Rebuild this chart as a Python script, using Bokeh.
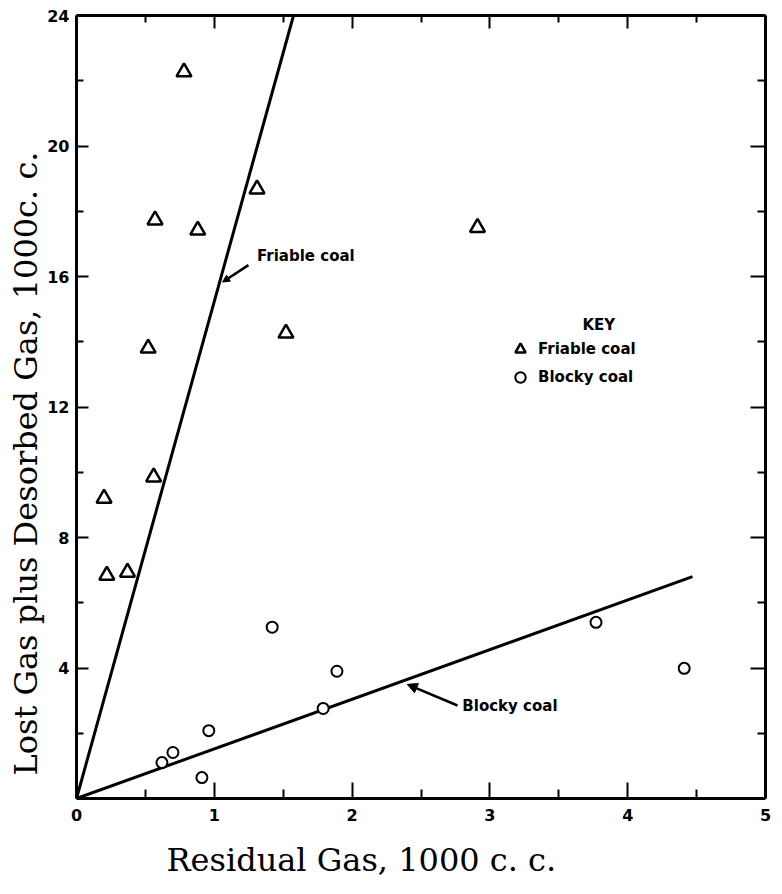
from bokeh.plotting import figure
from bokeh.models import (Range1d, LinearAxis, FixedTicker, Label, Arrow, NormalHead,
                          Legend, LegendItem, CustomJSTickFormatter, Title)
from bokeh.embed import file_html
from bokeh.resources import INLINE

# ---- data ----
friable_x = [0.78, 1.31, 0.57, 0.88, 1.52, 0.52, 2.91, 0.56, 0.20, 0.22, 0.37]
friable_y = [22.27, 18.68, 17.73, 17.42, 14.26, 13.80, 17.50, 9.85, 9.20, 6.84, 6.93]
blocky_x = [1.42, 1.89, 1.79, 0.62, 0.70, 0.96, 0.91, 3.77, 4.41]
blocky_y = [5.25, 3.90, 2.76, 1.10, 1.41, 2.08, 0.64, 5.40, 3.99]
friable_fit_x = [0.0, 1.575]
friable_fit_y = [0.0, 24.0]
blocky_fit_x = [0.0, 4.47]
blocky_fit_y = [0.0, 6.80]
x_ticks = [0, 1, 2, 3, 4, 5]
x_minor = [0.5, 1.5, 2.5, 3.5, 4.5]
y_ticks = [4, 8, 12, 16, 20, 24]
y_minor = [2, 6, 10, 14, 18, 22]
x_title = "Residual Gas,  1000 c. c."
y_title = "Lost Gas plus Desorbed Gas, 1000c. c."

TICK_FONT = "DejaVu Sans"
SERIF = "DejaVu Serif"

p = figure(width=782, height=894, x_range=Range1d(0, 5), y_range=Range1d(0, 24),
           output_backend="svg", toolbar_location=None,
           x_axis_type=None, y_axis_type=None,
           min_border_left=76, min_border_right=17, min_border_top=15, min_border_bottom=96,
           background_fill_color="white", border_fill_color="white", outline_line_color=None)


def make_axis(ticks, minor, tick_in, minor_in, labels, standoff=8):
    ax = LinearAxis(ticker=FixedTicker(ticks=ticks, minor_ticks=minor))
    ax.axis_line_width = 3
    ax.axis_line_color = "black"
    ax.major_tick_in = tick_in
    ax.major_tick_out = 0
    ax.minor_tick_in = minor_in
    ax.minor_tick_out = 0
    ax.major_tick_line_width = 2
    ax.minor_tick_line_width = 2
    ax.major_tick_line_color = "black"
    ax.minor_tick_line_color = "black"
    if labels:
        ax.major_label_text_font = TICK_FONT
        ax.major_label_text_font_style = "bold"
        ax.major_label_text_font_size = "16px"
        ax.major_label_text_color = "black"
        ax.major_label_standoff = standoff
    else:
        ax.formatter = CustomJSTickFormatter(code="return ''")
        ax.major_label_text_font_size = "0px"
        ax.major_label_standoff = 0
    return ax


p.add_layout(make_axis(x_ticks, x_minor, 16, 9, True, 10), "below")
p.add_layout(make_axis(y_ticks, y_minor, 12, 7, True, 7), "left")
p.add_layout(make_axis(x_ticks, x_minor, 13, 7, False), "above")
p.add_layout(make_axis(y_ticks, y_minor, 15, 8, False), "right")

# axis titles
p.add_layout(Title(text=x_title, align="left", offset=90, standoff=30,
                   text_font=SERIF, text_font_size="32px", text_font_style="normal",
                   text_line_height=1.0, text_color="black"), "below")
p.add_layout(Title(text=y_title, align="left", offset=23, standoff=0,
                   text_font=SERIF, text_font_size="32px", text_font_style="normal",
                   text_color="black"), "left")

# fitted lines
p.line(friable_fit_x, friable_fit_y, line_color="black", line_width=3)
p.line(blocky_fit_x, blocky_fit_y, line_color="black", line_width=3)

# data points
r_f = p.scatter(friable_x, friable_y, marker="triangle", size=15, fill_color="white",
                line_color="black", line_width=2.5)
r_b = p.scatter(blocky_x, blocky_y, marker="circle", size=11, fill_color="white",
                line_color="black", line_width=2)

# key
legend = Legend(items=[LegendItem(label="Friable coal", renderers=[r_f]),
                       LegendItem(label="Blocky coal", renderers=[r_b])],
                location=(431, 408), orientation="vertical",
                border_line_color=None, background_fill_alpha=0,
                label_text_font=TICK_FONT, label_text_font_style="bold",
                label_text_font_size="15px", label_text_color="black",
                glyph_width=26, glyph_height=26, label_height=26, spacing=2,
                padding=0, margin=0, label_standoff=5)
p.add_layout(legend)

p.add_layout(Label(x=3.79, y=14.51, text="KEY", text_align="center", text_baseline="middle",
                   text_font=TICK_FONT, text_font_style="bold", text_font_size="15px",
                   text_color="black"))

# line annotations
p.add_layout(Label(x=1.31, y=16.63, text="Friable coal", text_align="left", text_baseline="middle",
                   text_font=TICK_FONT, text_font_style="bold", text_font_size="15px",
                   text_color="black"))
p.add_layout(Arrow(x_start=1.248, y_start=16.35, x_end=1.06, y_end=15.83,
                   line_width=2.5, line_color="black",
                   end=NormalHead(size=7, fill_color="black", line_color="black")))
p.add_layout(Label(x=2.80, y=2.85, text="Blocky coal", text_align="left", text_baseline="middle",
                   text_font=TICK_FONT, text_font_style="bold", text_font_size="15px",
                   text_color="black"))
p.add_layout(Arrow(x_start=2.765, y_start=2.85, x_end=2.40, y_end=3.50,
                   line_width=2.5, line_color="black",
                   end=NormalHead(size=10, fill_color="black", line_color="black")))

open("out.html", "w").write(file_html(p, INLINE))
